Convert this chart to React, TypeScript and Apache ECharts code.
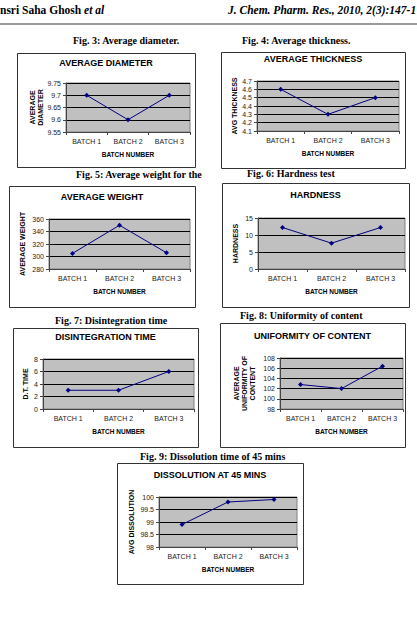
import React, { useEffect, useRef } from "react";
import * as echarts from "echarts";

// ---- data ----
const categories = ["BATCH 1", "BATCH 2", "BATCH 3"];
const diameter = [9.7, 9.6, 9.7];
const thickness = [4.6, 4.3, 4.5];
const weight = [305, 350, 306];
const hardness = [12.2, 7.6, 12.2];
const dtTime = [3, 3, 6];
const uniformity = [102.8, 102.0, 106.4];
const dissolution = [98.9, 99.8, 99.9];

const chartTitles = [
  "AVERAGE DIAMETER",
  "AVERAGE THICKNESS",
  "AVERAGE WEIGHT",
  "HARDNESS",
  "DISINTEGRATION TIME",
  "UNIFORMITY OF CONTENT",
  "DISSOLUTION AT 45 MINS",
];
const yNames = [
  "AVERAGE\nDIAMETER",
  "AVG THICKNESS",
  "AVERAGE WEIGHT",
  "HARDNESS",
  "D.T. TIME",
  "AVERAGE\nUNIFORMITY OF\nCONTENT",
  "AVG DISSOLUTION",
];
const xName = "BATCH NUMBER";
const captions = [
  "Fig. 3: Average diameter.",
  "Fig. 4: Average thickness.",
  "Fig. 5: Average weight for the",
  "Fig. 6: Hardness test",
  "Fig. 7: Disintegration time",
  "Fig. 8: Uniformity of content",
  "Fig. 9: Dissolution time of 45 mins",
];
const seriesData = [diameter, thickness, weight, hardness, dtTime, uniformity, dissolution];
const yRanges = [
  [9.55, 9.75, 0.05],
  [4.1, 4.7, 0.1],
  [280, 360, 20],
  [0, 15, 5],
  [0, 8, 2],
  [98, 108, 2],
  [98, 100, 0.5],
];
const headerLeft = "nsri Saha Ghosh ";
const headerLeftItalic = "et al";
const headerRight = "J. Chem. Pharm. Res., 2010, 2(3):147-1";

// ---- layout ----
type Panel = {
  box: number[];
  plot: number[];
  titleY: number;
  yNameX: number;
  cap: number[];
};
const panels: Panel[] = [
  { box: [17, 53, 195, 167], plot: [66, 83, 190, 132], titleY: 63, yNameX: 36, cap: [73, 40] },
  { box: [221, 52, 405, 168], plot: [257, 81, 399, 131], titleY: 59, yNameX: 234, cap: [242, 40] },
  { box: [9, 186, 195, 307], plot: [49, 219, 190, 269], titleY: 197, yNameX: 22, cap: [76, 174] },
  { box: [222, 183, 409, 307], plot: [258, 218, 405, 269], titleY: 195, yNameX: 235, cap: [247, 173] },
  { box: [13, 328, 198, 447], plot: [43, 359, 194, 409], titleY: 337, yNameX: 25, cap: [55, 320] },
  { box: [220, 323, 405, 447], plot: [280, 358, 403, 409], titleY: 336, yNameX: 244, cap: [240, 315] },
  { box: [117, 463, 303, 584], plot: [159, 497, 297, 547], titleY: 475, yNameX: 131, cap: [140, 456] },
];

const SANS = "'Liberation Sans', Arial, sans-serif";
const SERIF = "'Liberation Serif', 'Times New Roman', serif";

function fmt(v: number) {
  return String(Math.round(v * 1000) / 1000);
}

export default function App() {
  const ref = useRef<HTMLDivElement>(null);
  useEffect(() => {
    if (!ref.current) return;
    const chart = echarts.init(ref.current, undefined, { renderer: "svg" });

    const grid: any[] = [];
    const xAxis: any[] = [];
    const yAxis: any[] = [];
    const series: any[] = [];
    const graphic: any[] = [];

    graphic.push({
      type: "text",
      x: 0,
      y: 10,
      z: 5,
      style: {
        text: `{a|${headerLeft}}{b|${headerLeftItalic}}`,
        verticalAlign: "middle",
        rich: {
          a: { fontFamily: SERIF, fontWeight: "bold", fontSize: 11.5, fill: "#000" },
          b: { fontFamily: SERIF, fontWeight: "bold", fontStyle: "italic", fontSize: 11.5, fill: "#000" },
        },
      },
    });
    graphic.push({
      type: "text",
      x: 228,
      y: 10,
      z: 5,
      style: {
        text: headerRight,
        fontFamily: SERIF,
        fontWeight: "bold",
        fontStyle: "italic",
        fontSize: 11.5,
        fill: "#000",
        verticalAlign: "middle",
      },
    });
    graphic.push({
      type: "rect",
      shape: { x: 0, y: 23, width: 417, height: 2 },
      style: { fill: "#9a9a9a" },
      z: 5,
    });

    panels.forEach((p, i) => {
      const [bx0, by0, bx1, by1] = p.box;
      const [px0, py0, px1, py1] = p.plot;
      const [mn, mx, step] = yRanges[i];
      grid.push({
        left: px0,
        top: py0,
        width: px1 - px0,
        height: py1 - py0,
        show: true,
        backgroundColor: "#c0c0c0",
        borderColor: "#808080",
        borderWidth: 1,
      });
      xAxis.push({
        type: "category",
        gridIndex: i,
        data: categories,
        boundaryGap: true,
        axisLine: { show: true, lineStyle: { color: "#444", width: 1 } },
        axisTick: { show: true, length: 3, lineStyle: { color: "#444" } },
        axisLabel: { fontFamily: SANS, fontSize: 7, color: "#222", margin: 6 },
        splitLine: { show: false },
      });
      yAxis.push({
        type: "value",
        gridIndex: i,
        min: mn,
        max: mx,
        interval: step,
        axisLine: { show: true, lineStyle: { color: "#444", width: 1 } },
        axisTick: { show: true, length: 3, lineStyle: { color: "#444" } },
        axisLabel: {
          fontFamily: SANS,
          fontSize: 7,
          color: "#222",
          margin: 5,
          formatter: (v: number) => fmt(v),
        },
        splitLine: { show: true, lineStyle: { color: "#000", width: 1 } },
      });
      series.push({
        type: "line",
        xAxisIndex: i,
        yAxisIndex: i,
        data: seriesData[i],
        symbol: "diamond",
        symbolSize: 5,
        lineStyle: { color: "#000080", width: 1 },
        itemStyle: { color: "#000080" },
        silent: true,
      });
      // box
      graphic.push({
        type: "rect",
        z: -10,
        shape: { x: bx0 + 0.5, y: by0 + 0.5, width: bx1 - bx0, height: by1 - by0 },
        style: { fill: "#fff", stroke: "#333", lineWidth: 1 },
      });
      // title
      graphic.push({
        type: "text",
        x: (bx0 + bx1) / 2,
        y: p.titleY,
        z: 5,
        style: {
          text: chartTitles[i],
          fontFamily: SANS,
          fontWeight: "bold",
          fontSize: 9,
          fill: "#000",
          align: "center",
          verticalAlign: "middle",
        },
      });
      // x axis name
      graphic.push({
        type: "text",
        x: (px0 + px1) / 2,
        y: py1 + 22,
        z: 5,
        style: {
          text: xName,
          fontFamily: SANS,
          fontWeight: "bold",
          fontSize: 6.5,
          fill: "#000",
          align: "center",
          verticalAlign: "middle",
        },
      });
      // y axis name
      graphic.push({
        type: "text",
        x: p.yNameX,
        y: (py0 + py1) / 2,
        rotation: Math.PI / 2,
        z: 5,
        style: {
          text: yNames[i],
          fontFamily: SANS,
          fontWeight: "bold",
          fontSize: 7,
          lineHeight: 8,
          fill: "#000",
          align: "center",
          verticalAlign: "middle",
        },
      });
      // caption
      graphic.push({
        type: "text",
        x: p.cap[0],
        y: p.cap[1],
        z: 5,
        style: {
          text: captions[i],
          fontFamily: SERIF,
          fontWeight: "bold",
          fontSize: 10,
          fill: "#000",
          verticalAlign: "middle",
        },
      });
    });

    chart.setOption({
      animation: false,
      backgroundColor: "#fff",
      grid,
      xAxis,
      yAxis,
      series,
      graphic,
    });
    return () => chart.dispose();
  }, []);
  return (
    <div
      ref={ref}
      style={{ position: "absolute", left: 0, top: 0, width: 417, height: 622 }}
    />
  );
}
